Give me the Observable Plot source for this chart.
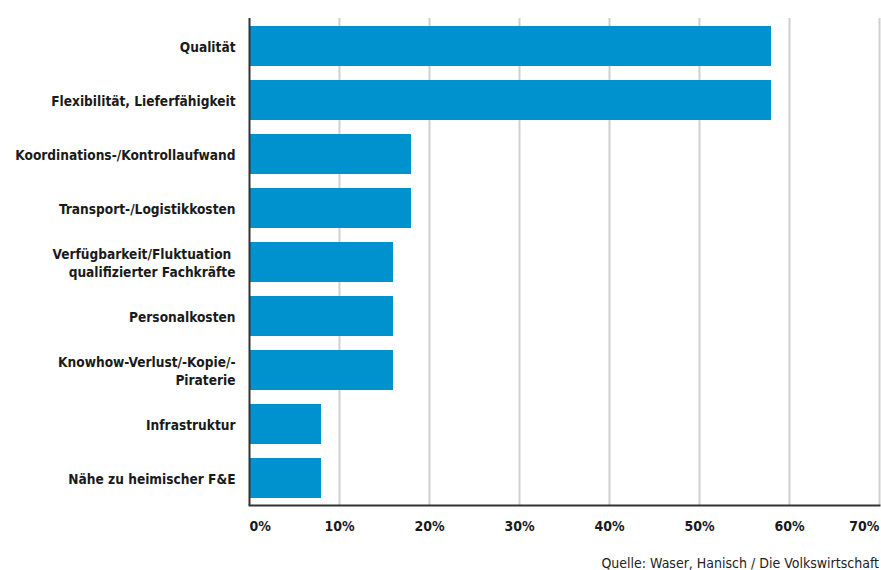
<!DOCTYPE html>
<html><head><meta charset="utf-8">
<script src="https://cdn.jsdelivr.net/npm/d3@7"></script>
<script src="https://cdn.jsdelivr.net/npm/@observablehq/plot@0.6"></script>
<style>
body{margin:0;background:#fff;font-family:"DejaVu Sans Condensed",sans-serif;}
#cap{width:879px;text-align:right;font-size:14px;color:#222;margin-top:10px;}
</style></head><body>
<div id="chart"></div>
<div id="cap">Quelle: Waser, Hanisch / Die Volkswirtschaft</div>
<script>
const categories = ["Qualität","Flexibilität, Lieferfähigkeit","Koordinations-/Kontrollaufwand","Transport-/Logistikkosten","Verfügbarkeit/Fluktuation \nqualifizierter Fachkräfte","Personalkosten","Knowhow-Verlust/-Kopie/-\nPiraterie","Infrastruktur","Nähe zu heimischer F&E"];
const values = [58,58,18,18,16,16,16,8,8];
const ticks = [0,10,20,30,40,50,60,70];
const data = categories.map((c,i)=>({cat:c,v:values[i]}));
const fmt = d => d + "%";
const plot = Plot.plot({
  width: 881, height: 545,
  marginLeft: 249, marginRight: 2, marginTop: 18, marginBottom: 40,
  style: {fontFamily: "'DejaVu Sans Condensed',sans-serif", fontSize: "13.6px", fontWeight: "bold", color: "#1a1a1a"},
  x: {domain: [0,70], ticks: ticks},
  y: {domain: categories, paddingInner: 0.26, paddingOuter: 0.13, label: null},
  marks: [
    Plot.ruleX(ticks.slice(1), {stroke: "#d0d0d0", strokeWidth: 2}),
    Plot.barX(data, {x: "v", y: "cat", fill: "#0091cf"}),
    Plot.ruleX([0], {stroke: "#333", strokeWidth: 2}),
    Plot.frame({anchor: "bottom", stroke: "#333", strokeWidth: 2}),
    Plot.axisY({tickSize: 0, tickPadding: 14, label: null, lineHeight: 1.3, fontSize: 13.6, fontWeight: "bold"}),
    Plot.axisX({ticks: ticks.slice(1,-1), tickSize: 0, tickPadding: 16, tickFormat: fmt, label: null, fontSize: 14, fontWeight: "bold"}),
    Plot.axisX({ticks: [0], tickSize: 0, tickPadding: 16, tickFormat: fmt, label: null, textAnchor: "start", fontSize: 14, fontWeight: "bold"}),
    Plot.axisX({ticks: [70], tickSize: 0, tickPadding: 16, tickFormat: fmt, label: null, textAnchor: "end", fontSize: 14, fontWeight: "bold"})
  ]
});
document.getElementById("chart").appendChild(plot);
</script>
</body></html>
